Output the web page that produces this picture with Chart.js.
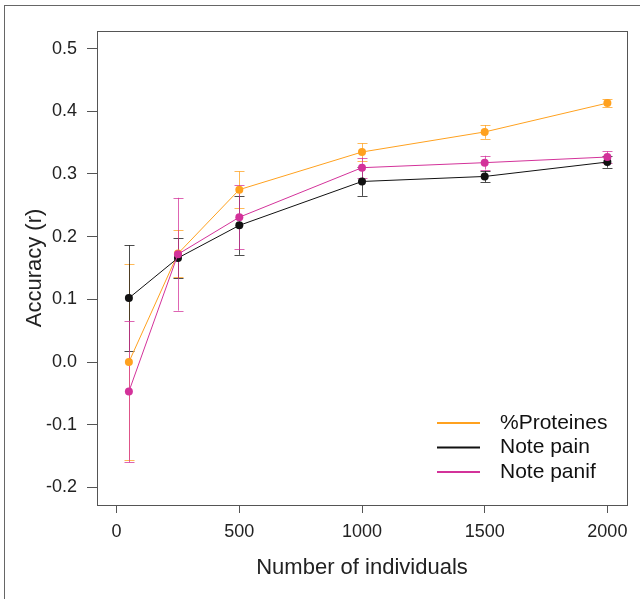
<!DOCTYPE html>
<html>
<head>
<meta charset="utf-8">
<script src="https://cdn.jsdelivr.net/npm/chart.js@4.4.1/dist/chart.umd.min.js"></script>
<style>
  html, body { margin: 0; padding: 0; background: #fff; }
  #wrap { position: relative; width: 640px; height: 599px; }
  #frame { position: absolute; left: 4px; top: 5px; right: 0; bottom: 0;
           border-top: 1.5px solid #666; border-left: 1.5px solid #666; pointer-events: none; }
</style>
</head>
<body>
<div id="wrap">
  <canvas id="chart" width="640" height="599"></canvas>
  <div id="frame"></div>
</div>
<script>
// data
const sizes = [50, 250, 500, 1000, 1500, 2000];
const proteines = [0.000, 0.173, 0.275, 0.335, 0.367, 0.413];
const proteinesErr = [0.156, 0.037, 0.029, 0.014, 0.011, 0.006];
const notePain = [0.102, 0.166, 0.218, 0.288, 0.296, 0.319];
const notePainErr = [0.084, 0.032, 0.047, 0.023, 0.009, 0.009];
const notePanif = [-0.047, 0.172, 0.231, 0.310, 0.318, 0.327];
const notePanifErr = [0.113, 0.090, 0.051, 0.016, 0.011, 0.009];
const xTicks = [0, 500, 1000, 1500, 2000];
const yTicks = [-0.2, -0.1, 0.0, 0.1, 0.2, 0.3, 0.4, 0.5];
const seriesNames = ['%Proteines', 'Note pain', 'Note panif'];

const ORANGE = '#FFA11F';
const BLACK = '#111111';
const PINK = '#D3329A';
const FONT = "'Liberation Sans', Arial, sans-serif";

function pts(ys) { return sizes.map((x, i) => ({x: x, y: ys[i]})); }

const errorBars = {
  id: 'errorBars',
  beforeDatasetsDraw(chart) {
    const ctx = chart.ctx;
    const xs = chart.scales.x, ys = chart.scales.y;
    chart.data.datasets.forEach(ds => {
      ctx.save();
      ctx.strokeStyle = ds.borderColor;
      ctx.globalAlpha = 0.75;
      ctx.lineWidth = 1;
      ds.data.forEach((p, i) => {
        const e = ds.errors[i];
        const px = Math.round(xs.getPixelForValue(p.x)) + 0.5;
        const top = ys.getPixelForValue(p.y + e);
        const bot = ys.getPixelForValue(p.y - e);
        ctx.beginPath();
        ctx.moveTo(px, top); ctx.lineTo(px, bot);
        ctx.moveTo(px - 5, Math.round(top) + 0.5); ctx.lineTo(px + 5, Math.round(top) + 0.5);
        ctx.moveTo(px - 5, Math.round(bot) + 0.5); ctx.lineTo(px + 5, Math.round(bot) + 0.5);
        ctx.stroke();
      });
      ctx.restore();
    });
  }
};

const boxAndLegend = {
  id: 'boxAndLegend',
  afterDraw(chart) {
    const ctx = chart.ctx, a = chart.chartArea;
    ctx.save();
    ctx.strokeStyle = '#555';
    ctx.lineWidth = 1;
    ctx.strokeRect(Math.round(a.left) + 0.5, Math.round(a.top) + 0.5,
                   Math.round(a.right - a.left), Math.round(a.bottom - a.top));
    // legend, bottom right inside the box
    const colors = [ORANGE, BLACK, PINK];
    ctx.font = '21px ' + FONT;
    ctx.textBaseline = 'middle';
    ctx.fillStyle = '#111';
    seriesNames.forEach((name, i) => {
      const y = 423 + i * 24.5;
      ctx.strokeStyle = colors[i];
      ctx.lineWidth = 2;
      ctx.beginPath();
      ctx.moveTo(437, y); ctx.lineTo(480, y);
      ctx.stroke();
      ctx.fillText(name, 500, y);
    });
    ctx.restore();
  }
};

new Chart(document.getElementById('chart').getContext('2d'), {
  type: 'line',
  data: {
    datasets: [
      { label: seriesNames[0], data: pts(proteines), errors: proteinesErr, borderColor: ORANGE,
        backgroundColor: ORANGE, order: 2 },
      { label: seriesNames[1], data: pts(notePain), errors: notePainErr, borderColor: BLACK,
        backgroundColor: BLACK, order: 1 },
      { label: seriesNames[2], data: pts(notePanif), errors: notePanifErr, borderColor: PINK,
        backgroundColor: PINK, order: 0 }
    ]
  },
  options: {
    responsive: false,
    animation: false,
    events: [],
    layout: { padding: { top: 31, right: 13, left: 0, bottom: 0 } },
    elements: {
      line: { borderWidth: 1, tension: 0 },
      point: { radius: 4, borderWidth: 0 }
    },
    plugins: { legend: { display: false }, tooltip: { enabled: false } },
    scales: {
      x: {
        type: 'linear',
        min: -80, max: 2080,
        afterBuildTicks: s => { s.ticks = xTicks.map(v => ({value: v})); },
        afterFit: s => { s.height = 94; },
        grid: { drawOnChartArea: false, drawTicks: true, tickLength: 8, color: '#555' },
        border: { display: false },
        ticks: { color: '#222', font: { family: FONT, size: 18 }, padding: 8, maxRotation: 0,
                 callback: v => String(v) },
        title: { display: true, text: 'Number of individuals', color: '#222',
                 font: { family: FONT, size: 22 }, padding: { top: 0, bottom: 18 } }
      },
      y: {
        min: -0.228, max: 0.528,
        afterBuildTicks: s => { s.ticks = yTicks.map(v => ({value: v})); },
        afterFit: s => { s.width = 97; },
        grid: { drawOnChartArea: false, drawTicks: true, tickLength: 10, color: '#555' },
        border: { display: false },
        ticks: { color: '#222', font: { family: FONT, size: 18 }, padding: 10,
                 callback: v => v.toFixed(1) },
        title: { display: true, text: 'Accuracy (r)', color: '#222',
                 font: { family: FONT, size: 22 }, padding: { top: 22, bottom: 0 } }
      }
    }
  },
  plugins: [errorBars, boxAndLegend]
});
</script>
</body>
</html>
